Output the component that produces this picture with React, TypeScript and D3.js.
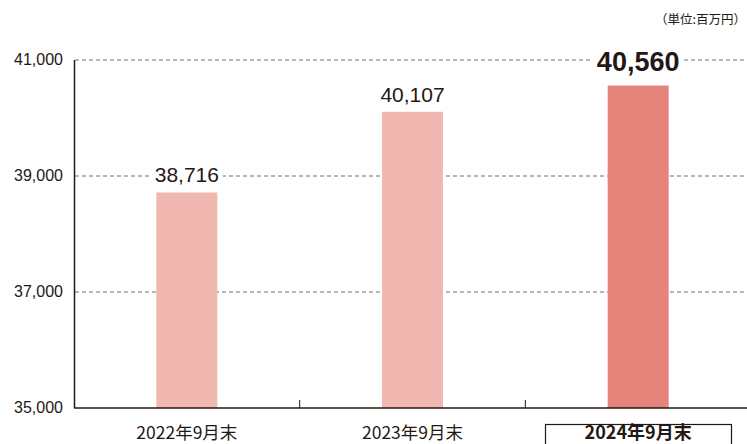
import React from "react";
import * as d3 from "d3";

const categories = ["2022年9月末", "2023年9月末", "2024年9月末"];
const values = [38716, 40107, 40560];
const valueLabels = ["38,716", "40,107", "40,560"];
const yTicks = [35000, 37000, 39000, 41000];
const highlight = [false, false, true];

export default function App() {
  const W = 747, H = 444;
  const x = d3.scaleBand<string>().domain(categories).range([74, 751]).paddingInner(0).paddingOuter(0);
  const y = d3.scaleLinear().domain([35000, 41000]).range([408, 60]);
  const barW = 61;
  const fmt = d3.format(",");
  return (
    <svg width={W} height={H} style={{ position: "absolute", left: 0, top: 0, display: "block" }}>
      <rect width={W} height={H} fill="#fff" />
      <text x={746} y={24} textAnchor="end" fontSize={12.5} fontFamily="'Noto Sans CJK JP', sans-serif" fill="#231815">（単位:百万円）</text>
      {yTicks.map((t) => (
        <g key={t}>
          {t !== 35000 && (
            <line x1={75} x2={747} y1={y(t)} y2={y(t)} stroke="#6f6f6f" strokeWidth={1} strokeDasharray="4,3" />
          )}
          <text x={63} y={y(t) + 5.5} textAnchor="end" fontSize={16.5} fontFamily="'Liberation Sans', Arial, sans-serif" fill="#231815" transform={`translate(63,0) scale(0.97,1) translate(-63,0)`}>{fmt(t)}</text>
        </g>
      ))}
      {categories.map((c, i) => {
        const cx = (x(c) as number) + x.bandwidth() / 2;
        const top = y(values[i]);
        return (
          <g key={c}>
            <rect x={cx - barW / 2} y={top} width={barW} height={y(35000) - top} fill={highlight[i] ? "#E6837B" : "#F0B8B0"} />
          </g>
        );
      })}
      <line x1={74.5} x2={74.5} y1={60} y2={408} stroke="#231815" strokeWidth={1.5} />
      <line x1={74} x2={747} y1={408} y2={408} stroke="#231815" strokeWidth={1.5} />
      {categories.slice(1).map((c) => (
        <line key={c} x1={x(c) as number} x2={x(c) as number} y1={400} y2={408} stroke="#231815" strokeWidth={1} />
      ))}
      {categories.map((c, i) => {
        const cx = (x(c) as number) + x.bandwidth() / 2;
        const top = y(values[i]);
        const big = highlight[i];
        const fs = big ? 27 : 21;
        const tw = big ? 84 : 66;
        const ly = top - (big ? 15 : 10);
        return (
          <g key={"l" + c}>
            <rect x={cx - tw / 2 - 3} y={ly - fs * 0.78} width={tw + 6} height={fs * 0.85} fill="#fff" />
            <text x={cx} y={ly} textAnchor="middle" fontSize={fs} fontWeight={big ? 700 : 400} fontFamily="'Liberation Sans', Arial, sans-serif" fill="#231815">{valueLabels[i]}</text>
          </g>
        );
      })}
      {categories.map((c, i) => {
        const cx = (x(c) as number) + x.bandwidth() / 2;
        const big = highlight[i];
        return (
          <g key={"c" + c}>
            {big && <rect x={545.5} y={424.5} width={186} height={26} fill="none" stroke="#231815" strokeWidth={1.2} />}
            <text x={cx} y={big ? 438.5 : 439} textAnchor="middle" fontSize={big ? 18 : 17.5} fontWeight={big ? 700 : 400} fontFamily="'Noto Sans CJK JP', sans-serif" fill="#231815">{c}</text>
          </g>
        );
      })}
    </svg>
  );
}
